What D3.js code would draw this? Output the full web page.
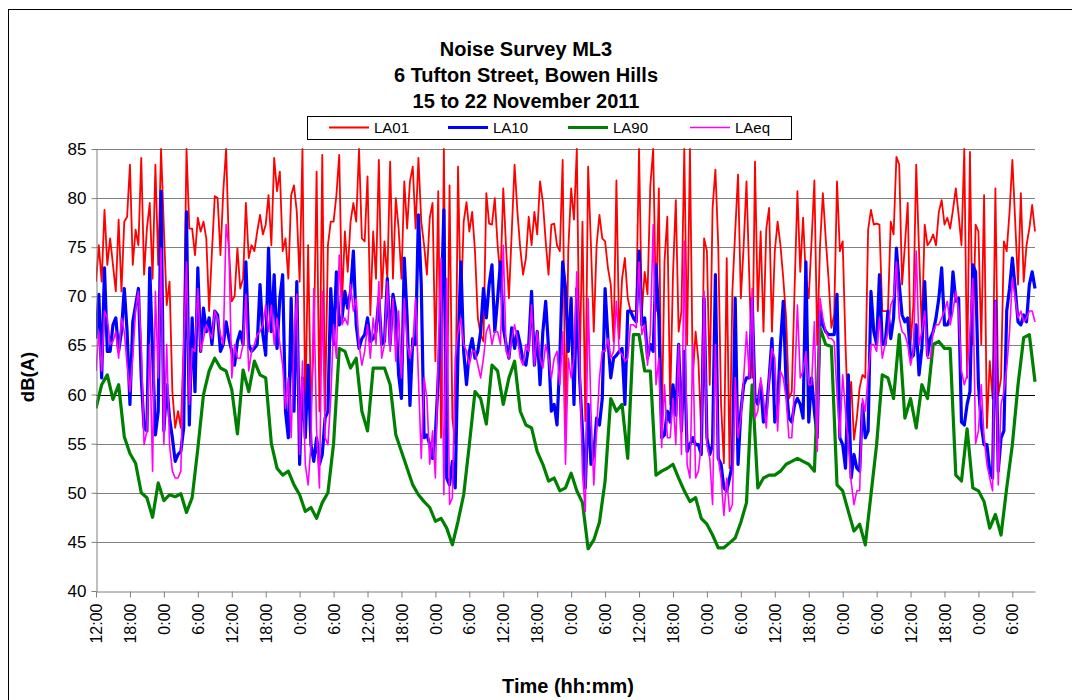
<!DOCTYPE html>
<html><head><meta charset="utf-8">
<script src="https://cdn.jsdelivr.net/npm/d3@7"></script>
<style>
html,body{margin:0;padding:0;background:#fff;}
svg{display:block;}
text{font-family:"Liberation Sans",Arial,sans-serif;fill:#000;}
</style></head><body>
<svg id="chart" width="1072" height="700"></svg>
<script>
// ---------------- data ----------------
const titleLines = ["Noise Survey ML3", "6 Tufton Street, Bowen Hills", "15 to 22 November 2011"];
const seriesNames = ["LA01", "LA10", "LA90", "LAeq"];
const seriesColors = ["#ff0000", "#0000ff", "#008000", "#ff00ff"];
const yTicks = [40, 45, 50, 55, 60, 65, 70, 75, 80, 85];
const xTickLabels = ["12:00","18:00","0:00","6:00","12:00","18:00","0:00","6:00","12:00","18:00","0:00","6:00","12:00","18:00","0:00","6:00","12:00","18:00","0:00","6:00","12:00","18:00","0:00","6:00","12:00","18:00","0:00","6:00"];
const xTitle = "Time (hh:mm)";
const yTitle = "dB(A)";

// LA01, 30-minute values from 12:00 15 Nov
const la01 = [71.5,75.2,71.5,78.8,73.2,75.9,73.2,70.5,77.8,70.5,
77.6,78.1,83.4,73.2,76.8,75.2,84.1,72.2,76.9,79.5,
71.8,83.4,73.2,85,76.9,69.1,71.5,60.3,56.6,58.3,
56.6,65.1,85,76.9,76.9,74.2,78.0,76.6,77.6,75.9,
68.5,74.6,80.2,80.0,74.2,80.7,85,74.9,69.5,70.0,
74.9,70.8,71.8,79.5,73.9,75.2,74.6,76.6,78.3,76.3,
77.3,80.3,75.2,84.1,80.7,82.7,74.6,75.9,71.8,80.3,
81.3,78.6,71.5,85,57.9,75.2,58.6,65.1,82.7,58.3,
84.4,58.3,75.2,77.6,
77.6,80.3,84.4,69.5,76.6,72.5,77.6,79.5,77.6,85,
75.9,75.6,82.2,68.1,76.6,71.8,83.9,69.8,75.6,71.8,
83.7,71.8,80.0,76.9,71.8,81.7,76.9,81.7,83.2,76.9,
84.1,77.6,75.2,72.2,78.0,79.5,63.4,80.7,55.6,85,
54.9,81.3,57.6,54.9,83.2,68.5,77.6,79.6,76.6,78.6,
74.6,67.8,66.1,65.4,80.5,77.4,77.3,80.0,75.2,71.8,
81.0,74.9,69.8,76.6,83.4,78.6,74.9,72.2,73.9,78.1,
75.2,78.6,76.3,81.7,79.6,75.6,72.2,77.3,77.4,75.2,
74.6,83.9,56.0,74.9,
81.0,77.8,85,62.4,77.6,57.3,83.2,75.2,66.4,75.2,
78.3,75.9,75.6,72.9,71.2,65.4,81.8,65.7,71.8,73.9,
69.8,68.5,68.5,68.5,85,68.3,72.5,70.2,81.3,85,
68.5,81.0,55.9,73.5,78.1,59.0,72.2,79.8,66.4,68.5,
85,65.1,85,61.7,66.4,63.4,55.9,75.9,74.6,61.0,
79.0,82.9,75.2,59.0,53.0,73.9,52.5,70.5,76.6,82.4,
69.8,75.2,81.7,71.8,61.7,83.7,68.5,76.6,66.4,76.9,
79.0,66.4,74.6,77.6,75.2,71.8,67.8,59.6,60.3,70.8,
80.7,72.5,78.0,
71.8,69.8,75.6,81.8,65.1,75.2,80.5,75.9,71.8,66.8,
68.1,81.7,74.6,75.6,65.1,56.9,61.3,55.4,57.6,60.7,
62.0,61.7,76.8,78.8,77.3,77.4,77.3,68.5,68.5,68.5,
77.6,76.3,84.2,83.4,71.2,75.2,79.5,65.1,69.1,83.4,
74.6,66.4,77.3,75.2,75.6,76.3,75.2,78.6,79.8,77.3,
78.0,76.9,78.8,81.0,78.3,75.2,85,61.7,84.7,65.1,
77.3,76.6,65.1,80.3,56.6,63.4,59.6,81.0,59.9,61.7,
75.6,74.6,78.6,83.9,77.6,71.2,80.5,71.5,75.2,76.9,
79.3,76.6];

// LA10, 30-minute values
const la10 = [65.7,70.2,61.7,72.9,64.4,64.4,67.1,67.8,64.4,66.4,
70.8,66.4,59.0,67.4,69.1,70.8,61.7,56.6,56.3,72.9,
64.4,55.9,58.3,80.7,56.3,61.0,57.6,55.6,53.2,53.9,
54.2,56.6,78.6,56.9,67.8,60.3,72.9,64.4,68.8,66.4,
67.8,65.1,68.5,68.1,64.4,65.1,67.4,65.7,64.4,63.0,
65.4,66.4,65.1,73.5,65.1,64.4,64.7,65.1,71.2,66.1,
64.0,74.9,66.4,72.2,64.7,69.8,72.2,58.3,55.6,69.8,
58.3,71.5,52.9,61.7,55.6,63.0,54.9,53.2,55.6,52.9,
53.9,57.6,58.3,70.8,
65.1,72.5,67.1,67.8,70.5,68.8,70.5,74.6,67.1,64.7,
65.7,66.1,67.8,65.4,65.7,66.4,69.8,65.1,65.4,71.8,
65.1,70.2,68.5,62.0,59.6,73.9,67.8,58.9,65.7,65.1,
78.3,71.2,55.6,55.9,54.9,53.5,55.9,61.7,68.5,78.8,
51.5,50.8,53.2,50.5,64.4,73.5,64.4,61.0,64.4,65.7,
63.7,64.4,66.4,70.8,67.8,71.2,73.2,66.4,69.8,73.5,
66.8,65.1,63.7,66.8,64.7,66.4,65.1,63.4,63.0,65.1,
70.5,63.0,66.4,61.0,66.4,69.5,64.7,58.3,59.0,56.9,
63.7,73.5,70.8,64.4,
69.8,59.0,70.8,61.7,56.3,50.5,59.0,52.9,53.9,57.6,
56.9,59.6,70.8,65.7,61.7,63.7,64.0,64.4,64.7,59.0,
68.5,68.5,67.8,67.4,74.6,67.1,67.8,63.7,65.1,64.4,
73.2,67.8,55.6,55.9,58.3,57.2,61.0,57.9,65.1,56.3,
64.4,54.2,54.9,55.6,54.9,54.9,53.9,69.8,55.6,53.9,
54.9,72.2,53.5,52.9,50.5,50.2,51.5,52.9,69.8,52.9,
58.3,61.0,61.7,61.7,69.8,59.6,59.0,61.0,57.2,58.3,
61.7,65.7,57.2,59.0,65.1,69.5,61.0,57.6,57.2,59.0,
59.6,59.0,57.6,
73.5,57.2,61.7,58.3,55.6,68.5,67.1,66.4,66.1,66.1,
66.1,70.2,55.6,54.9,52.5,62.0,51.5,53.9,52.5,52.2,
59.0,55.6,56.3,70.5,66.4,65.1,72.2,65.1,65.1,68.5,
65.7,67.8,74.9,71.2,68.1,67.4,67.8,63.7,64.0,67.1,
62.0,64.7,71.5,64.0,65.7,66.4,67.8,69.8,72.9,67.1,
67.1,67.8,72.5,69.5,69.8,57.2,56.9,59.0,60.3,73.2,
72.5,61.0,56.9,54.9,54.9,52.2,51.5,69.5,52.2,55.6,
56.3,68.5,70.8,73.9,70.8,67.4,67.1,68.1,67.4,71.2,
72.5,70.8];

// LA90, hourly values
const la90 = [58.6,61.0,62.0,59.5,61.0,55.7,54.0,53.0,50.0,49.5,
47.5,51.0,49.2,49.8,49.6,49.9,48.0,49.5,54.5,60.0,
62.4,63.7,62.7,62.4,60.5,56.0,62.5,60.3,63.4,62.0,
61.7,55.0,52.5,51.8,52.2,50.8,49.8,48.1,48.5,47.4,
49.0,50.0,55.0,64.7,64.4,62.7,63.7,58.3,56.3,62.7,
62.7,62.7,61.0,55.9,54.2,52.5,50.8,49.8,49.1,48.5,
47.1,47.4,46.4,44.7,47.1,49.8,54.9,60.3,59.6,57.0,
63.0,62.4,59.0,61.7,63.4,58.3,56.9,56.6,54.2,52.9,
51.2,51.5,50.2,50.5,52.0,50.2,49.0,44.3,45.2,47.0,
51.2,59.6,58.3,59.0,53.5,66.1,66.1,62.4,62.4,51.8,
52.2,52.5,52.9,51.5,50.2,49.1,49.5,47.4,46.8,45.7,
44.4,44.4,44.9,45.4,47.0,49.0,61.0,50.5,51.5,51.8,
51.8,52.2,52.9,53.2,53.5,53.2,52.9,52.2,66.8,65.1,
64.9,50.8,50.2,48.1,46.1,46.8,44.7,49.8,54.9,62.0,
61.7,59.6,66.1,57.6,59.6,56.6,61.0,59.6,65.1,65.4,
64.7,64.7,51.8,51.2,56.5,50.5,50.2,49.1,46.4,47.8,
45.7,50.5,54.9,61.0,65.8,66.1,61.3];

// LAeq, 30-minute values
const laeq = [62.4,66.4,62.4,68.5,67.8,65.1,65.4,66.4,63.7,67.8,
66.4,63.0,60.3,63.7,68.5,70.5,65.1,54.9,56.3,65.1,
52.2,70.5,61.7,74.9,54.9,65.1,54.9,52.2,51.5,51.5,
52.2,65.1,73.5,59.0,64.7,64.4,70.8,64.4,65.7,67.1,
66.4,65.7,68.5,67.8,66.1,65.1,77.3,74.9,61.7,65.1,
63.7,63.7,65.1,70.2,62.4,64.4,65.1,66.1,66.4,67.1,
69.1,66.4,69.1,65.1,67.8,65.1,63.0,58.6,61.7,55.6,
65.1,70.2,53.9,63.4,52.9,50.8,54.9,70.8,56.3,50.5,
70.5,55.6,54.9,59.6,
67.1,63.7,74.2,67.1,67.8,67.1,71.2,68.5,69.8,65.1,
63.0,64.4,67.1,63.7,67.8,65.1,71.5,63.7,65.1,71.5,
64.4,69.8,63.4,68.5,61.7,69.8,65.1,63.7,65.1,69.8,
61.7,53.5,61.7,59.6,52.9,56.3,51.5,64.4,73.9,49.8,
71.8,48.8,49.5,63.7,66.4,67.8,65.1,64.4,63.0,64.4,
64.4,63.0,61.7,63.7,66.4,67.1,65.1,66.4,66.4,65.1,
75.2,64.4,63.7,65.7,67.1,65.7,63.7,63.0,65.1,64.4,
69.1,63.0,66.4,63.7,62.7,65.1,63.7,61.7,63.7,64.4,
61.0,66.4,52.9,63.7,
61.7,63.7,72.5,63.7,52.0,48.1,69.8,58.3,50.8,56.3,
61.7,64.4,64.4,65.7,63.7,64.4,69.5,64.4,64.1,63.4,
63.7,67.1,67.1,66.8,73.5,66.1,67.1,63.0,66.4,77.3,
61.0,63.7,54.6,61.0,55.6,55.6,59.6,54.9,65.1,53.9,
75.6,52.9,51.5,65.1,51.5,52.2,54.9,70.5,54.9,53.5,
48.8,65.1,53.5,51.5,47.7,51.5,48.1,48.8,61.7,55.6,
57.6,61.7,66.4,61.7,70.8,57.6,58.3,61.7,59.6,56.6,
61.7,64.7,63.7,56.3,62.4,61.7,59.6,55.6,55.6,61.0,
69.1,61.7,62.4,
64.4,61.0,61.0,67.4,54.2,69.8,67.8,66.4,65.7,65.7,
65.4,60.0,55.6,62.0,58.3,54.9,51.1,48.8,50.2,50.2,
59.6,58.3,62.0,65.1,65.1,64.4,67.8,63.7,65.1,66.4,
69.1,69.8,73.5,67.8,66.4,66.1,65.1,63.0,64.4,74.6,
65.1,66.4,68.5,63.7,63.7,66.4,67.1,67.1,67.8,68.5,
69.5,67.1,68.5,70.5,68.5,62.4,61.0,62.0,66.4,71.8,
55.0,56.3,61.0,55.6,52.9,51.5,50.2,69.5,50.8,59.0,
60.3,62.7,66.4,71.8,69.8,67.8,68.5,67.4,67.8,68.5,
68.5,67.4];

// hours per sample for each series
const seriesStep = [0.5, 0.5, 1, 0.5];
const seriesData = [la01, la10, la90, laeq];

// ---------------- drawing ----------------
const svg = d3.select("#chart");
const plot = {left: 96, right: 1035, top: 149, bottom: 591};
const totalHours = 166;

svg.append("rect").attr("x", 8.5).attr("y", 9.5).attr("width", 1200).attr("height", 900)
  .attr("fill", "#fff").attr("stroke", "#000").attr("stroke-width", 1);

const x = d3.scaleLinear().domain([0, totalHours]).range([plot.left, plot.right]);
const y = d3.scaleLinear().domain([40, 85]).range([plot.bottom, plot.top]);

// gridlines
svg.append("g").selectAll("line").data(yTicks.filter(v => v > 40)).join("line")
  .attr("x1", plot.left).attr("x2", plot.right)
  .attr("y1", d => Math.round(y(d)) + 0.5).attr("y2", d => Math.round(y(d)) + 0.5)
  .attr("stroke", d => d === 60 ? "#000" : "#808080").attr("stroke-width", 1);

// series
const clipId = "plotclip";
svg.append("clipPath").attr("id", clipId).append("rect")
  .attr("x", plot.left).attr("y", plot.top - 2).attr("width", plot.right - plot.left + 2).attr("height", plot.bottom - plot.top + 2);

const widths = [1.8, 3.2, 3.2, 1.6];
const lineGen = step => d3.line().x((d, i) => x(i * step)).y(d => y(d));
const gLines = svg.append("g").attr("clip-path", `url(#${clipId})`);
seriesData.forEach((arr, si) => {
  gLines.append("path").datum(arr)
    .attr("d", lineGen(seriesStep[si]))
    .attr("fill", "none").attr("stroke", seriesColors[si])
    .attr("stroke-width", widths[si]).attr("stroke-linejoin", "round");
});

// y axis
const yAxis = svg.append("g").attr("transform", `translate(${plot.left + 0.5},0)`)
  .call(d3.axisLeft(y).tickValues(yTicks).tickSize(5).tickPadding(5).tickSizeOuter(0));
yAxis.select(".domain").attr("stroke", "#808080");
yAxis.selectAll(".tick line").attr("stroke", "#808080");
yAxis.selectAll(".tick text").attr("font-size", 17).attr("font-family", '"Liberation Sans",Arial,sans-serif').attr("fill", "#000");

// x axis
const xTickHours = xTickLabels.map((_, i) => i * 6);
const xAxis = svg.append("g").attr("transform", `translate(0,${plot.bottom + 0.5})`)
  .call(d3.axisBottom(x).tickValues(xTickHours).tickSize(6).tickSizeOuter(0).tickFormat((d, i) => xTickLabels[i]));
xAxis.select(".domain").attr("stroke", "#808080");
xAxis.selectAll(".tick line").attr("stroke", "#808080");
xAxis.selectAll(".tick text")
  .attr("font-size", 16).attr("font-family", '"Liberation Sans",Arial,sans-serif').attr("fill", "#000")
  .attr("transform", "rotate(-90)").attr("text-anchor", "end")
  .attr("x", -12).attr("y", 0).attr("dy", "0.35em");

// titles
svg.append("g").selectAll("text").data(titleLines).join("text")
  .attr("x", 526).attr("y", (d, i) => 56 + i * 25.8)
  .attr("text-anchor", "middle").attr("font-weight", "bold").attr("font-size", 20)
  .text(d => d);

svg.append("text").attr("transform", "translate(28,377) rotate(-90)")
  .attr("text-anchor", "middle").attr("dy", "0.35em")
  .attr("font-weight", "bold").attr("font-size", 18.5).text(yTitle);

svg.append("text").attr("x", 568).attr("y", 693)
  .attr("text-anchor", "middle").attr("font-weight", "bold").attr("font-size", 20).text(xTitle);

// legend
const leg = svg.append("g");
leg.append("rect").attr("x", 307.5).attr("y", 116.5).attr("width", 484).attr("height", 23)
  .attr("fill", "#fff").attr("stroke", "#000").attr("stroke-width", 1);
const legX = [329, 448, 568, 690];
seriesNames.forEach((name, i) => {
  leg.append("line").attr("x1", legX[i]).attr("x2", legX[i] + 40)
    .attr("y1", 127.5).attr("y2", 127.5)
    .attr("stroke", seriesColors[i]).attr("stroke-width", widths[i]);
  leg.append("text").attr("x", legX[i] + 45).attr("y", 133)
    .attr("font-size", 15).text(name);
});
</script>
</body></html>
